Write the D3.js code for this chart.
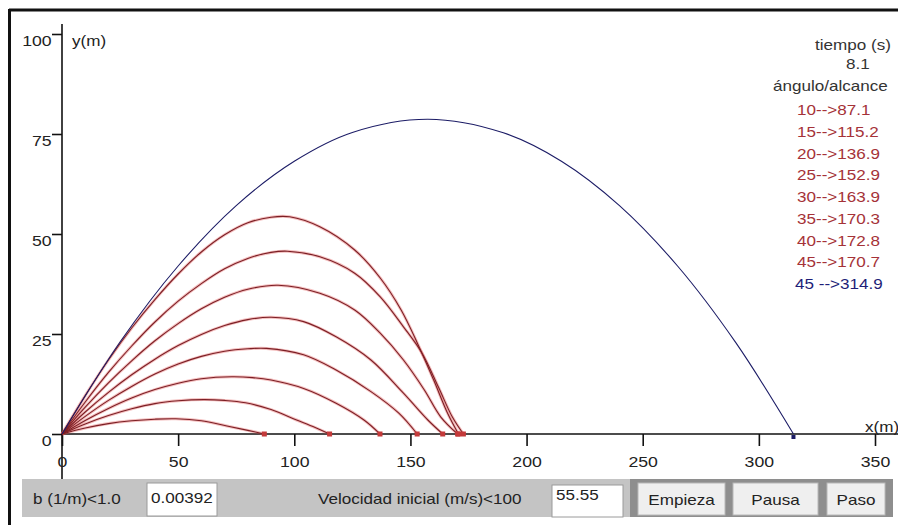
<!DOCTYPE html>
<html>
<head>
<meta charset="utf-8">
<script src="https://cdn.jsdelivr.net/npm/d3@7"></script>
<style>
  body { margin: 0; background: #fff; }
  svg { display: block; font-family: "Liberation Sans", Arial, sans-serif; }
</style>
</head>
<body>
<div id="chart"></div>
<script>
// datos
const xTicks = [0, 50, 100, 150, 200, 250, 300, 350];
const yTicks = [0, 25, 50, 75, 100];
const angulos = [10, 15, 20, 25, 30, 35, 40, 45];
const alcances = [87.1, 115.2, 136.9, 152.9, 163.9, 170.3, 172.8, 170.7];
const anguloSinRoce = 45;
const alcanceSinRoce = 314.9;
const tiempo = "8.1";
const bValor = "0.00392";
const v0Valor = "55.55";

// trayectorias con rozamiento [x(m), y(m)]
const tray10 = [[0,0],[10,1.5],[20,2.6],[30,3.3],[40,3.7],[49,3.8],[60,3.3],[71,2.0],[80,0.9],[87.1,0]];
const tray15 = [[0,0],[10,2.5],[20,4.6],[30,6.3],[40,7.6],[50,8.3],[61,8.6],[70,8.4],[79,7.8],[90,6.1],[101,3.5],[109,1.6],[115.2,0]];
const tray20 = [[0,0],[10,3.4],[20,6.4],[30,9.0],[40,11.1],[50,12.7],[60,13.8],[73,14.3],[82,14.1],[90,13.5],[104,11.4],[118,7.7],[130,3.5],[136.9,0]];
const tray25 = [[0,0],[10,4.4],[20,8.4],[30,11.9],[40,15.0],[50,17.5],[60,19.4],[70,20.7],[80,21.3],[88,21.4],[104,19.8],[118,16.0],[133,10.6],[145,5.2],[152.9,0]];
const tray30 = [[0,0],[10,5.5],[20,10.4],[30,14.8],[40,18.7],[50,22.1],[60,24.9],[70,27.1],[80,28.6],[90,29.2],[104,28.1],[118,24.3],[133,18.5],[147,10.2],[157.5,3.5],[163.9,0]];
const tray35 = [[0,0],[10,6.7],[20,12.8],[30,18.3],[40,23.3],[50,27.6],[60,31.3],[70,34.2],[80,36.2],[93,37.2],[111,35.2],[126,31],[137,25.2],[147,18.5],[156,11],[163,4.3],[170.3,0]];
const tray40 = [[0,0],[10,8],[20,15.4],[30,22],[40,28],[50,33.2],[60,37.6],[70,41.3],[80,43.9],[90,45.4],[97,45.7],[111,44.3],[126,40.2],[137,34.3],[147,26.8],[155,20.2],[162,11.8],[168,4.3],[172.8,0]];
const tray45 = [[0,0],[10,9.6],[20,18.5],[30,26.5],[40,33.6],[50,40],[60,45.5],[70,49.8],[80,52.8],[90,54.2],[98,54.3],[111,51.8],[126,46],[137,39],[146,31],[153,22.7],[160,13.5],[166,5.2],[170.7,0]];
// sin rozamiento
const traySinRoce = [[0,0],[25,23.0],[50,42.0],[75,57.1],[100,68.2],[125,75.4],[157.5,78.7],[190,75.3],[215,68.2],[240,57.1],[265,42.0],[290,22.9],[314.9,0]];

const trayectorias = [tray10, tray15, tray20, tray25, tray30, tray35, tray40, tray45];

const W = 898, H = 525;
const SX = 1.22; // el applet tiene el texto algo ensanchado

const svg = d3.select("#chart").append("svg")
    .attr("width", W)
    .attr("height", H);

const x = d3.scaleLinear().domain([0, 350]).range([62, 875]);
const y = d3.scaleLinear().domain([0, 100]).range([434, 34]);

function texto(g, px, py, t, color, size, anchor) {
    return g.append("text")
        .attr("transform", `translate(${px},${py}) scale(${SX},1)`)
        .attr("text-anchor", anchor || "start")
        .attr("fill", color || "#222")
        .style("font-size", (size || 14) + "px")
        .text(t);
}

// marco
svg.append("path")
    .attr("d", `M9,10H${W}M9.5,9V${H}`)
    .attr("stroke", "#111")
    .attr("stroke-width", 3)
    .attr("fill", "none");

// ejes
svg.append("line").attr("x1", 62).attr("x2", 62).attr("y1", 24).attr("y2", 479)
    .attr("stroke", "#111").attr("stroke-width", 1.6);
svg.append("line").attr("x1", 62).attr("x2", W).attr("y1", 434).attr("y2", 434)
    .attr("stroke", "#111").attr("stroke-width", 1.6);

const gx = svg.append("g")
    .attr("transform", "translate(0,434)")
    .call(d3.axisBottom(x).tickValues(xTicks).tickSize(12).tickSizeOuter(0));
gx.select(".domain").remove();
gx.selectAll(".tick line").attr("stroke", "#111").attr("stroke-width", 1.6);
gx.selectAll(".tick text")
    .attr("y", 33).attr("dy", null)
    .attr("fill", "#222")
    .attr("transform", `scale(${SX},1)`)
    .style("font-size", "14.5px")
    .style("font-family", "Liberation Sans, Arial, sans-serif");

const gy = svg.append("g")
    .attr("transform", "translate(62,0)")
    .call(d3.axisLeft(y).tickValues(yTicks).tickSize(10).tickSizeOuter(0));
gy.select(".domain").remove();
gy.selectAll(".tick line").attr("stroke", "#111").attr("stroke-width", 1.6);
gy.selectAll(".tick text")
    .attr("x", -8.5).attr("y", 11).attr("dy", null)
    .attr("fill", "#222")
    .attr("transform", `scale(${SX},1)`)
    .style("font-size", "14.5px")
    .style("font-family", "Liberation Sans, Arial, sans-serif");

texto(svg, 72, 46, "y(m)", "#222", 14);
texto(svg, 865, 432, "x(m)", "#222", 14);

// curvas
const linea = d3.line()
    .x(d => x(d[0]))
    .y(d => y(d[1]))
    .curve(d3.curveCatmullRom.alpha(0.5));

const gc = svg.append("g");
gc.selectAll("path.halo")
    .data(trayectorias)
    .join("path")
    .attr("class", "halo")
    .attr("d", linea)
    .attr("fill", "none")
    .attr("stroke", "#e04848")
    .attr("stroke-opacity", 0.35)
    .attr("stroke-width", 3);
gc.selectAll("path.tray")
    .data(trayectorias)
    .join("path")
    .attr("class", "tray")
    .attr("d", linea)
    .attr("fill", "none")
    .attr("stroke", "#7c1f25")
    .attr("stroke-width", 1.1);

gc.append("path")
    .datum(traySinRoce)
    .attr("d", linea)
    .attr("fill", "none")
    .attr("stroke", "#1c1c66")
    .attr("stroke-width", 1.1);

// puntos de impacto
gc.selectAll("rect.imp")
    .data(alcances)
    .join("rect")
    .attr("class", "imp")
    .attr("x", d => x(d) - 2.5)
    .attr("y", y(0) - 2.5)
    .attr("width", 5)
    .attr("height", 5)
    .attr("fill", "#c43a3a");
gc.append("rect")
    .attr("x", x(alcanceSinRoce) - 2)
    .attr("y", y(0) + 1)
    .attr("width", 4)
    .attr("height", 4)
    .attr("fill", "#1c1c66");

// leyenda derecha
const fmt = d3.format(".1f");
texto(svg, 815, 50, "tiempo (s)", "#333", 14);
texto(svg, 846, 68.5, tiempo, "#333", 14);
texto(svg, 773, 90.5, "ángulo/alcance", "#333", 14);
angulos.forEach((a, i) => {
    texto(svg, 797, 115 + i * 21.75, `${a}-->${fmt(alcances[i])}`, "#a53238", 14);
});
texto(svg, 795, 115 + angulos.length * 21.75, `${anguloSinRoce} -->${fmt(alcanceSinRoce)}`, "#1e1e78", 14);

// panel de controles
const panel = svg.append("g");
panel.append("rect").attr("x", 22).attr("y", 479).attr("width", 871).attr("height", 38).attr("fill", "#c4c4c4");
panel.append("rect").attr("x", 630).attr("y", 479).attr("width", 263).attr("height", 38).attr("fill", "#8e8e8e");

panel.append("rect").attr("x", 147).attr("y", 483).attr("width", 70).attr("height", 33)
    .attr("fill", "#fff").attr("stroke", "#9a9a9a");
panel.append("rect").attr("x", 552).attr("y", 485).attr("width", 71).attr("height", 32)
    .attr("fill", "#fff").attr("stroke", "#9a9a9a");

texto(panel, 33, 504, "b (1/m)<1.0", "#222", 14);
texto(panel, 151, 503, bValor, "#222", 14);
texto(panel, 318, 504, "Velocidad inicial (m/s)<100", "#222", 14);
texto(panel, 556, 500, v0Valor, "#222", 14);

const botones = [
    { t: "Empieza", x0: 638, x1: 725 },
    { t: "Pausa", x0: 733, x1: 818 },
    { t: "Paso", x0: 827, x1: 885 }
];
botones.forEach(b => {
    panel.append("rect").attr("x", b.x0).attr("y", 483).attr("width", b.x1 - b.x0).attr("height", 32)
        .attr("fill", "#efefef").attr("stroke", "#b8b8b8");
    texto(panel, (b.x0 + b.x1) / 2, 505, b.t, "#222", 14, "middle");
});
</script>
</body>
</html>
